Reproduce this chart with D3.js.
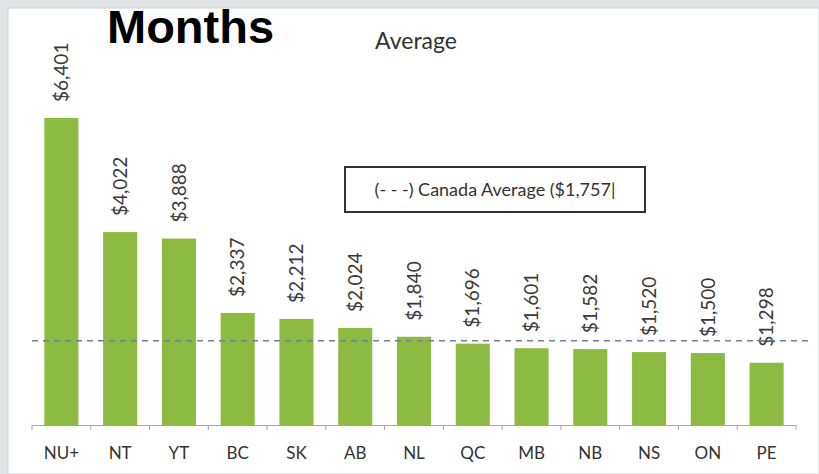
<!DOCTYPE html>
<html>
<head>
<meta charset="utf-8">
<script src="https://cdn.jsdelivr.net/npm/d3@7"></script>
<style>
  html, body { margin: 0; padding: 0; background: #e1e4e7; }
  svg { display: block; }
  text { font-family: Lato, "Open Sans", sans-serif; }
</style>
</head>
<body>
<div id="chart"></div>
<script>
// provinces and territories, sorted by value
const provinces = ["NU+", "NT", "YT", "BC", "SK", "AB", "NL", "QC", "MB", "NB", "NS", "ON", "PE"];
const values = [6401, 4022, 3888, 2337, 2212, 2024, 1840, 1696, 1601, 1582, 1520, 1500, 1298];
const canadaAverage = 1757;
const legendText = "(- - -) Canada Average ($1,757|";

const WIDTH = 819, HEIGHT = 474;
const BASE = 425;

let svg = d3.select("#chart").append("svg")
  .attr("width", WIDTH).attr("height", HEIGHT);

// white page panel
svg.append("rect").attr("x", 8).attr("y", 8)
  .attr("width", WIDTH - 8).attr("height", HEIGHT - 8)
  .attr("fill", "#ffffff").attr("stroke", "#cdd1d5").attr("stroke-width", 1);

let x = d3.scaleBand().domain(provinces).range([32, 796])
  .paddingInner(0.42).paddingOuter(0.21);
let y = d3.scaleLinear().domain([0, 7000]).range([BASE, BASE - 7000 * 0.04796]);

let data = provinces.map((p, i) => ({label: p, value: values[i]}));

// bars
svg.selectAll("rect.bar").data(data).enter()
  .append("rect").attr("class", "bar")
  .attr("x", d => x(d.label))
  .attr("y", d => y(d.value))
  .attr("width", x.bandwidth())
  .attr("height", d => y(0) - y(d.value))
  .attr("fill", "#8dbb41");

// value labels, rotated
svg.selectAll("text.val").data(data).enter()
  .append("text").attr("class", "val")
  .attr("transform", d => `translate(${x(d.label) + x.bandwidth() / 2},${y(d.value) - 16}) rotate(-90)`)
  .attr("dy", "0.35em")
  .attr("text-anchor", "start")
  .attr("font-size", 19)
  .attr("fill", "#3a3a3a")
  .text(d => "$" + d3.format(",")(d.value));

// x axis with ticks between categories
let axis = svg.append("g").attr("transform", `translate(0,${BASE})`)
  .call(d3.axisBottom(x).tickSize(0).tickPadding(22));
axis.select(".domain").attr("stroke", "#a6a6a6");
axis.selectAll("text").attr("font-size", 17).attr("fill", "#333")
  .style("font-family", "Lato, 'Open Sans', sans-serif");
let bounds = provinces.map(p => x(p) - x.step() * x.paddingInner() / 2)
  .concat([x.range()[1]]);
axis.selectAll("line.sep").data(bounds).enter()
  .append("line").attr("class", "sep")
  .attr("x1", d => d).attr("x2", d => d)
  .attr("y1", 0).attr("y2", 5)
  .attr("stroke", "#a6a6a6");

// average dashed line
svg.append("line")
  .attr("x1", 32).attr("x2", 810)
  .attr("y1", y(canadaAverage)).attr("y2", y(canadaAverage))
  .attr("stroke", "#6f7f96").attr("stroke-width", 1.5)
  .attr("stroke-dasharray", "6,5");

// legend box
svg.append("rect").attr("x", 345).attr("y", 167)
  .attr("width", 300).attr("height", 45)
  .attr("fill", "#fff").attr("stroke", "#333").attr("stroke-width", 2);
svg.append("text").attr("x", 495).attr("y", 196)
  .attr("text-anchor", "middle").attr("font-size", 18).attr("fill", "#333")
  .text(legendText);

// titles
svg.append("text").attr("x", 416).attr("y", 49)
  .attr("text-anchor", "middle").attr("font-size", 23).attr("fill", "#333")
  .text("Average");
svg.append("text").attr("x", 107).attr("y", 43)
  .attr("font-size", 47).attr("font-weight", "bold").attr("fill", "#000")
  .style("font-family", "'Liberation Sans', Arial, sans-serif")
  .text("Months");
</script>
</body>
</html>
